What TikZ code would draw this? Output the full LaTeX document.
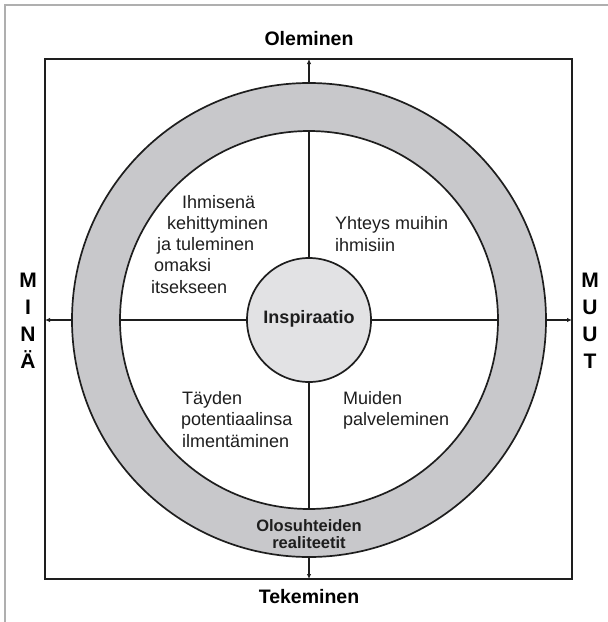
\documentclass[tikz,border=0pt]{standalone}
\usepackage{fontspec}
\setmainfont{Liberation Sans}
\usetikzlibrary{arrows.meta}
\definecolor{ringgray}{RGB}{200,200,203}
\definecolor{hubgray}{RGB}{226,226,228}
\definecolor{ink}{RGB}{30,30,30}
\definecolor{edgegray}{RGB}{175,175,175}
\begin{document}
\begin{tikzpicture}[x=1pt,y=-1pt,
  quad/.style={anchor=base west, inner sep=0pt, text=ink, font=\fontsize{18}{21}\selectfont},
  axislabel/.style={anchor=base, inner sep=0pt, text=black, font=\bfseries\fontsize{19.5}{23}\selectfont},
  letter/.style={anchor=base, inner sep=0pt, text=black, font=\bfseries\fontsize{21}{24}\selectfont},
  ringtext/.style={anchor=base, inner sep=0pt, text=ink, font=\bfseries\fontsize{16.5}{18}\selectfont},
  arr/.style={draw=ink, line width=1.2pt, -{Latex[length=5pt,width=4.5pt]}},
  divider/.style={draw=ink, line width=1.7pt},
  disk/.style={circle, draw=ink, line width=1.7pt, inner sep=0pt, outer sep=0pt},
]
\useasboundingbox (0,0) rectangle (608,622);
% page edge
\draw[edgegray, line width=1.5pt] (5,622) -- (5,5) -- (608,5);
% outer frame
\node[draw=ink, line width=1.4pt, minimum width=527pt, minimum height=520pt,
      outer sep=0pt, inner sep=0pt] (frame) at (308.5,319) {};
% ring, inner disc and hub
\node[disk, fill=ringgray, minimum size=474pt] (ring) at (309,320) {};
\node[disk, fill=white, minimum size=378pt] (disc) at (309,320) {};
\node[disk, fill=hubgray, minimum size=124pt] (hub) at (309,320) {};
\node[anchor=base, inner sep=0pt, text=ink, font=\bfseries\fontsize{18}{21}\selectfont]
  (hubtext) at (309,323.5) {Inspiraatio};
% quadrant dividers
\draw[divider] (disc.north) -- (hub.north);
\draw[divider] (hub.south) -- (disc.south);
\draw[divider] (disc.west) -- (hub.west);
\draw[divider] (hub.east) -- (disc.east);
% arrows to the frame
\draw[arr] (ring.north) -- (ring.north |- frame.north);
\draw[arr] (ring.south) -- (ring.south |- frame.south);
\draw[arr] (ring.west) -- (ring.west -| frame.west);
\draw[arr] (ring.east) -- (ring.east -| frame.east);
% axis labels
\node[axislabel] (olem) at (309,45.5) {Oleminen};
\node[axislabel] (tekem) at (309,603) {Tekeminen};
\node[letter] (mi1) at (28,287.5) {M};
\node[letter] (mi2) at (28,314.5) {I};
\node[letter] (mi3) at (28,341.5) {N};
\node[letter] (mi4) at (28,368.5) {Ä};
\node[letter] (mu1) at (590,287.5) {M};
\node[letter] (mu2) at (590,314.5) {U};
\node[letter] (mu3) at (590,341.5) {U};
\node[letter] (mu4) at (590,368.5) {T};
% quadrant texts
\node[quad] (tl1) at (182,208) {Ihmisenä};
\node[quad] (tl2) at (167,229.3) {kehittyminen};
\node[quad] (tl3) at (157,250.6) {ja tuleminen};
\node[quad] (tl4) at (154,271.9) {omaksi};
\node[quad] (tl5) at (151,293.2) {itsekseen};
\node[quad] (tr1) at (335,229) {Yhteys muihin};
\node[quad] (tr2) at (335,251) {ihmisiin};
\node[quad] (bl1) at (182,404) {Täyden};
\node[quad] (bl2) at (181,425.5) {potentiaalinsa};
\node[quad] (bl3) at (182,447) {ilmentäminen};
\node[quad] (br1) at (343,404) {Muiden};
\node[quad] (br2) at (343,425.5) {palveleminen};
% text in the ring
\node[ringtext] (oc1) at (309,531) {Olosuhteiden};
\node[ringtext] (oc2) at (309,548) {realiteetit};
\end{tikzpicture}
\end{document}
